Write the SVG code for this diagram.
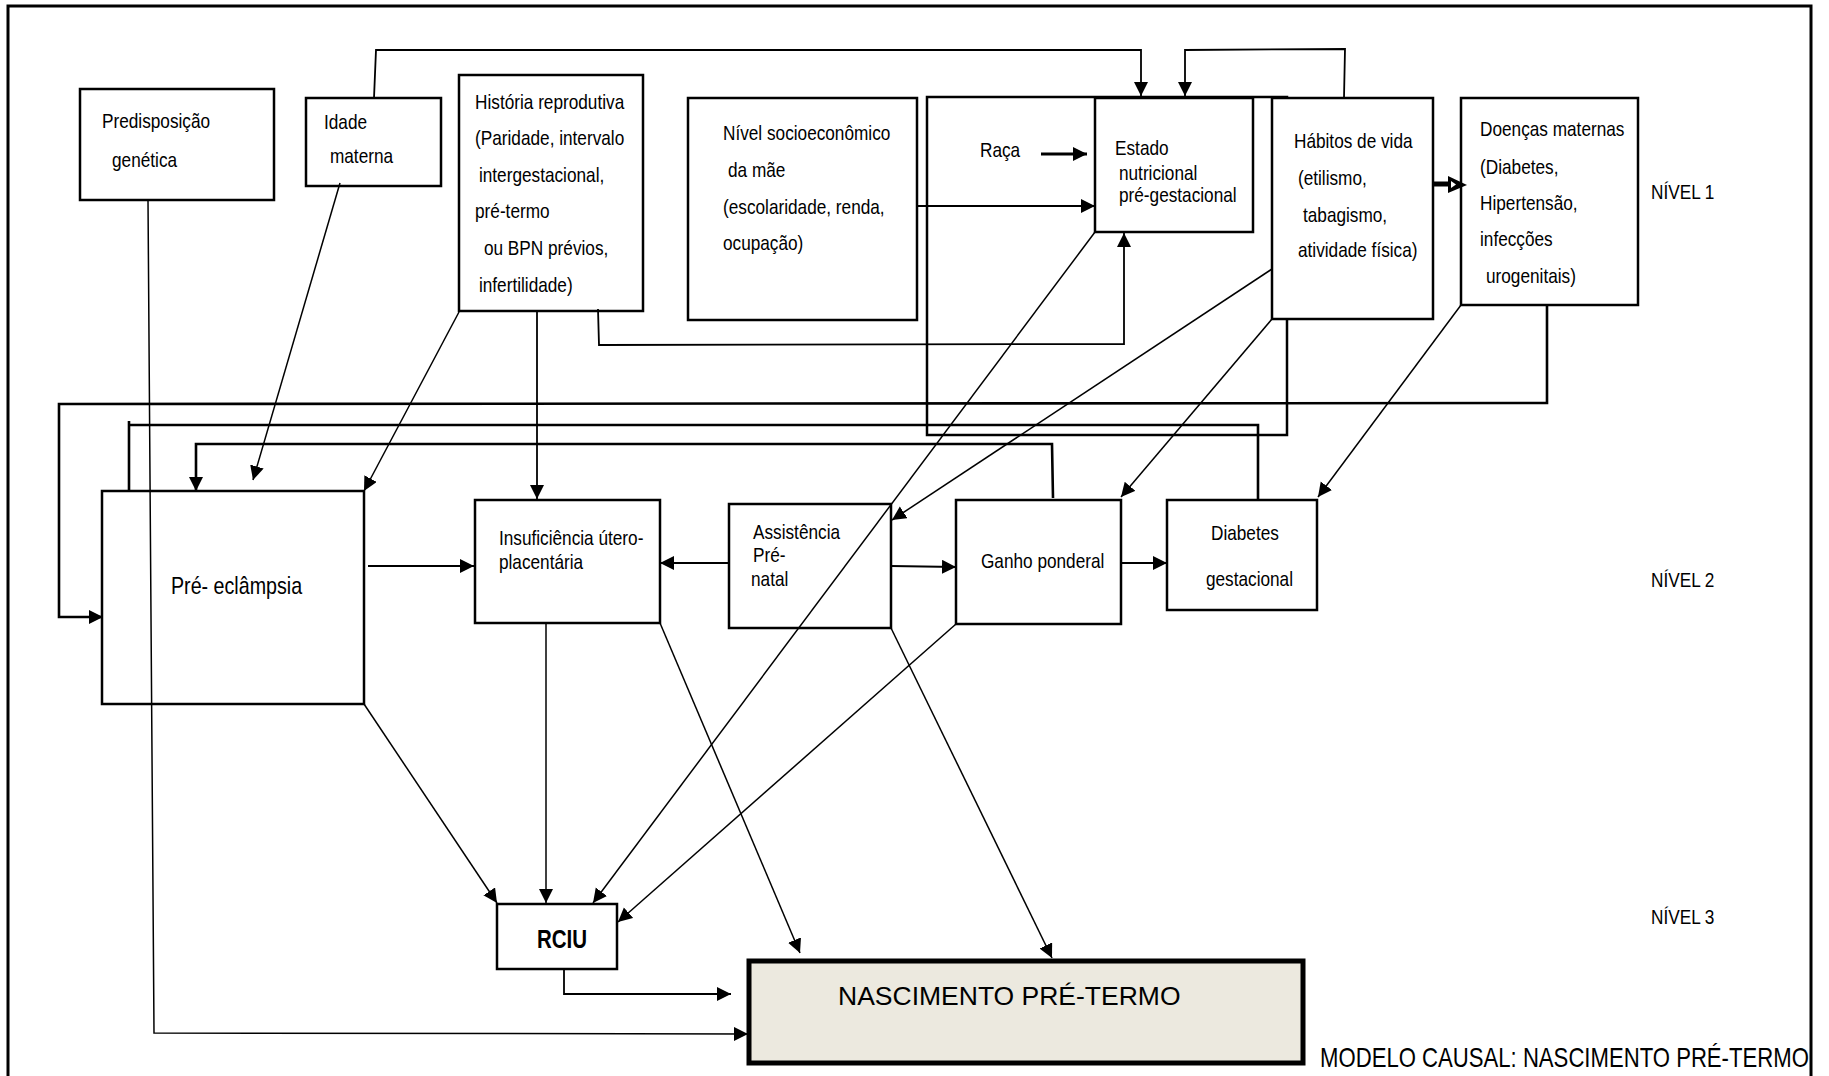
<svg xmlns="http://www.w3.org/2000/svg" width="1829" height="1076" viewBox="0 0 1829 1076">
<style>
.t{font-family:"Liberation Sans",Arial,sans-serif;font-size:21px;fill:#000}
.big{font-family:"Liberation Sans",Arial,sans-serif;font-size:26.5px;fill:#000}
.box{fill:#fff;stroke:#000;stroke-width:2.5}
.nf{fill:none;stroke:#000;stroke-width:2.5}
.c{fill:none;stroke:#000;stroke-width:1.8}
.d{fill:none;stroke:#000;stroke-width:1.5}
.h{fill:none;stroke:#000;stroke-width:2.6}
</style>
<defs>
<marker id="a" markerUnits="userSpaceOnUse" markerWidth="16" markerHeight="16" refX="14" refY="7" orient="auto">
<path d="M0,0 L14,7 L0,14 z" fill="#000"/>
</marker>
</defs>
<rect x="0" y="0" width="1829" height="1076" fill="#fff"/>
<rect id="frame" x="8" y="6" width="1803" height="1090" fill="none" stroke="#000" stroke-width="3"/>
<rect id="grupo-raca" x="927" y="97" width="360" height="338" class="nf"/>

<g id="predisposicao"><rect x="80" y="89" width="194" height="111" class="box"/>
<g transform="scale(0.82,1)"><text class="t" x="124.4" y="128">Predisposição</text><text class="t" x="136.6" y="167">genética</text></g></g>
<g id="idade"><rect x="306" y="98" width="135" height="88" class="box"/>
<g transform="scale(0.82,1)"><text class="t" x="395.1" y="129">Idade</text><text class="t" x="402.4" y="163">materna</text></g></g>
<g id="historia"><rect x="459" y="75" width="184" height="236" class="box"/>
<g transform="scale(0.82,1)">
<text class="t" x="579.3" y="109">História reprodutiva</text>
<text class="t" x="579.3" y="145">(Paridade, intervalo</text>
<text class="t" x="584.1" y="182">intergestacional,</text>
<text class="t" x="579.3" y="218">pré-termo</text>
<text class="t" x="590.2" y="255">ou BPN prévios,</text>
<text class="t" x="584.1" y="292">infertilidade)</text></g></g>
<g id="nivel"><rect x="688" y="98" width="229" height="222" class="box"/>
<g transform="scale(0.82,1)">
<text class="t" x="881.7" y="140">Nível socioeconômico</text>
<text class="t" x="887.8" y="177">da mãe</text>
<text class="t" x="881.7" y="214">(escolaridade, renda,</text>
<text class="t" x="881.7" y="250">ocupação)</text></g></g>
<g id="raca"><g transform="scale(0.82,1)"><text class="t" x="1195.1" y="157">Raça</text></g></g>
<g id="estado"><rect x="1095" y="98" width="158" height="134" class="box"/>
<g transform="scale(0.82,1)">
<text class="t" x="1359.8" y="155">Estado</text>
<text class="t" x="1364.6" y="180">nutricional</text>
<text class="t" x="1364.6" y="202">pré-gestacional</text></g></g>
<g id="habitos"><rect x="1272" y="98" width="161" height="221" class="box"/>
<g transform="scale(0.82,1)">
<text class="t" x="1578.0" y="148">Hábitos de vida</text>
<text class="t" x="1582.9" y="185">(etilismo,</text>
<text class="t" x="1589.0" y="222">tabagismo,</text>
<text class="t" x="1582.9" y="257">atividade física)</text></g></g>
<g id="doencas"><rect x="1461" y="98" width="177" height="207" class="box"/>
<g transform="scale(0.82,1)">
<text class="t" x="1804.9" y="136">Doenças maternas</text>
<text class="t" x="1804.9" y="174">(Diabetes,</text>
<text class="t" x="1804.9" y="210">Hipertensão,</text>
<text class="t" x="1804.9" y="246">infecções</text>
<text class="t" x="1812.2" y="283">urogenitais)</text></g></g>
<g id="preeclampsia"><rect x="102" y="491" width="262" height="213" class="box"/>
<g transform="scale(0.82,1)"><text class="t" x="208.5" y="594" style="font-size:24px">Pré- eclâmpsia</text></g></g>
<g id="insuficiencia"><rect x="475" y="500" width="185" height="123" class="box"/>
<g transform="scale(0.82,1)">
<text class="t" x="608.5" y="545">Insuficiência útero-</text>
<text class="t" x="608.5" y="569">placentária</text></g></g>
<g id="assistencia"><rect x="729" y="504" width="162" height="124" class="box"/>
<g transform="scale(0.82,1)">
<text class="t" x="918.3" y="539">Assistência</text>
<text class="t" x="918.3" y="562">Pré-</text>
<text class="t" x="915.9" y="586">natal</text></g></g>
<g id="ganho"><rect x="956" y="500" width="165" height="124" class="box"/>
<g transform="scale(0.82,1)"><text class="t" x="1196.3" y="568">Ganho ponderal</text></g></g>
<g id="diabetes"><rect x="1167" y="500" width="150" height="110" class="box"/>
<g transform="scale(0.82,1)">
<text class="t" x="1476.8" y="540">Diabetes</text>
<text class="t" x="1470.7" y="586">gestacional</text></g></g>
<g id="rciu"><rect x="497" y="904" width="120" height="65" class="box"/>
<g transform="scale(0.82,1)"><text class="t" x="654.9" y="948" style="font-size:25px;font-weight:bold">RCIU</text></g></g>
<g id="nascimento"><rect x="749" y="961" width="554" height="102" fill="#ECE9DF" stroke="#000" stroke-width="5"/>
<text class="big" x="838" y="1005">NASCIMENTO PRÉ-TERMO</text></g>
<g id="niveis"><g transform="scale(0.82,1)">
<text class="t" x="2013.4" y="199">NÍVEL 1</text>
<text class="t" x="2013.4" y="587">NÍVEL 2</text>
<text class="t" x="2013.4" y="924">NÍVEL 3</text>
<text class="t" x="1609.8" y="1067" style="font-size:27px">MODELO CAUSAL: NASCIMENTO PRÉ-TERMO</text>
</g></g>

<g id="connectors">
<polyline class="c" points="374,98 376,50 1141,50 1141,96" marker-end="url(#a)"/>
<polyline class="c" points="1344,98 1345,49 1185,50 1185,96" marker-end="url(#a)"/>
<line class="c" x1="917" y1="206" x2="1095" y2="206" marker-end="url(#a)"/>
<line x1="1041" y1="154" x2="1087" y2="154" stroke="#000" stroke-width="3.2" marker-end="url(#a)"/>
<polyline class="c" points="598,309 599,345 1124,344 1124,233" marker-end="url(#a)"/>
<line x1="1433" y1="184" x2="1450" y2="184" stroke="#000" stroke-width="5"/>
<polygon points="1448,176 1467,185 1448,193" fill="#000"/>
<polygon points="1451,181 1456,184.5 1451,188" fill="#fff"/>
<polyline class="h" points="1547,305 1547,403 59,404 59,617 103,617" marker-end="url(#a)"/>
<polyline class="h" points="129,491 129,421 129,425 1258,425 1258,500"/>
<polyline class="h" points="1053,498 1052,444 196,444 196,491" marker-end="url(#a)"/>
<line class="d" x1="340" y1="183" x2="253" y2="480" marker-end="url(#a)"/>
<line class="d" x1="459" y1="312" x2="364" y2="491" marker-end="url(#a)"/>
<line class="c" x1="537" y1="311" x2="537" y2="499" marker-end="url(#a)"/>
<line class="c" x1="368" y1="566" x2="474" y2="566" marker-end="url(#a)"/>
<line class="c" x1="729" y1="563" x2="660" y2="563" marker-end="url(#a)"/>
<line class="c" x1="891" y1="566" x2="956" y2="567" marker-end="url(#a)"/>
<line class="c" x1="1121" y1="563" x2="1167" y2="563" marker-end="url(#a)"/>
<line class="d" x1="1272" y1="269" x2="892" y2="520" marker-end="url(#a)"/>
<line class="d" x1="1272" y1="319" x2="1121" y2="497" marker-end="url(#a)"/>
<line class="d" x1="1461" y1="305" x2="1318" y2="497" marker-end="url(#a)"/>
<line class="d" x1="1095" y1="232" x2="593" y2="903" marker-end="url(#a)"/>
<line class="d" x1="364" y1="704" x2="497" y2="903" marker-end="url(#a)"/>
<line class="d" x1="546" y1="623" x2="546" y2="903" marker-end="url(#a)"/>
<line class="d" x1="956" y1="624" x2="618" y2="922" marker-end="url(#a)"/>
<line class="d" x1="660" y1="623" x2="800" y2="953" marker-end="url(#a)"/>
<line class="d" x1="891" y1="628" x2="1052" y2="958" marker-end="url(#a)"/>
<polyline class="c" points="564,969 564,994 731,994" marker-end="url(#a)"/>
<polyline class="d" points="148,200 154,1033 748,1034" marker-end="url(#a)"/>
</g>
</svg>
